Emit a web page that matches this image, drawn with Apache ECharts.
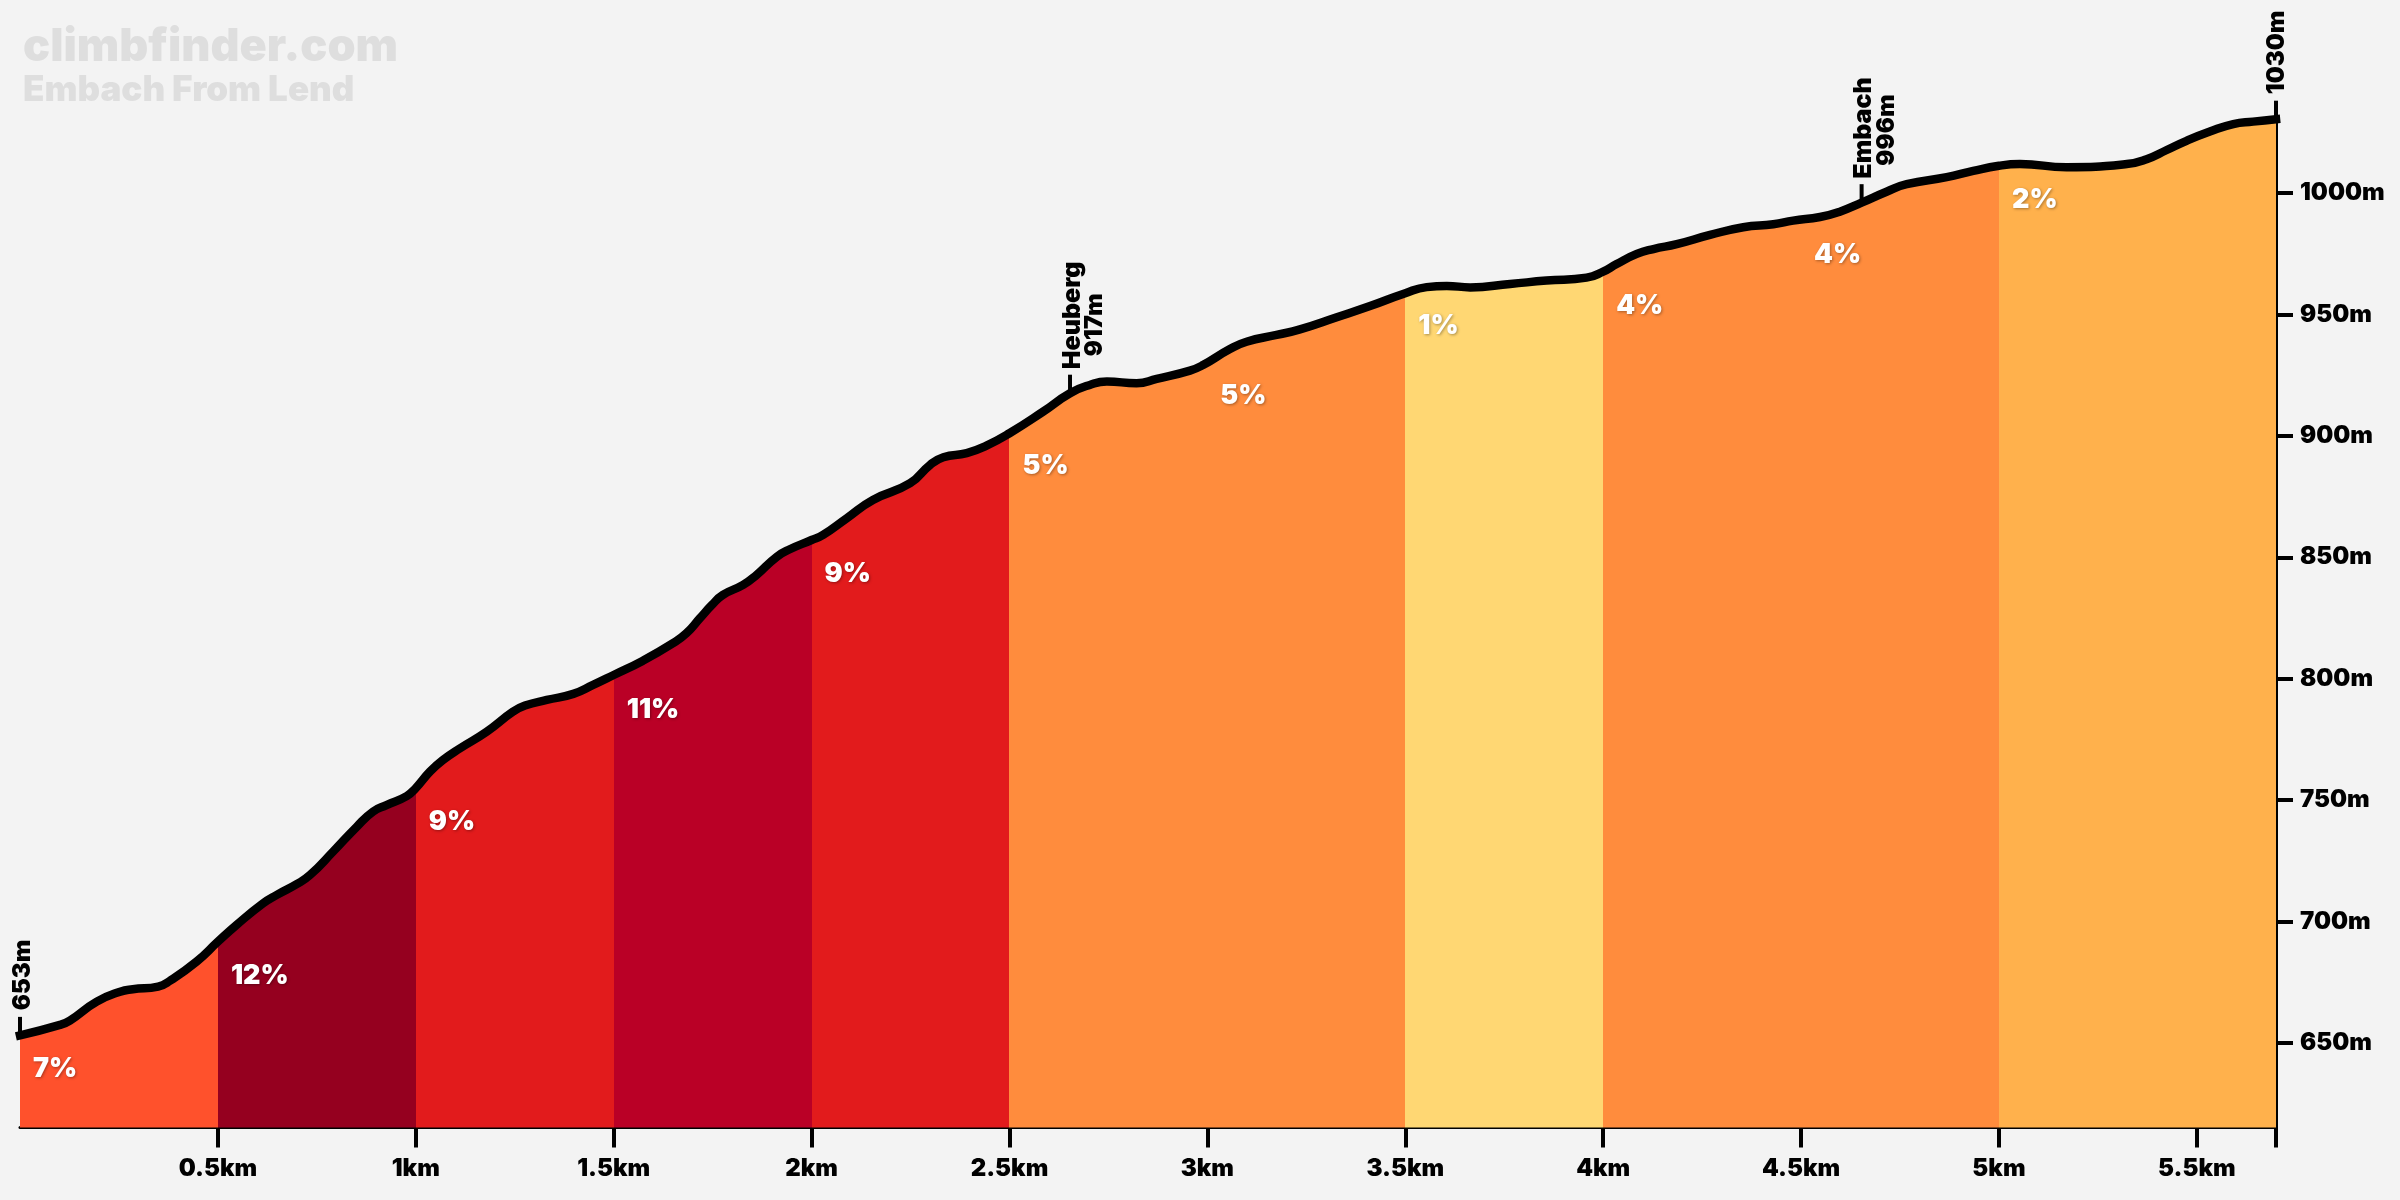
<!DOCTYPE html>
<html>
<head>
<meta charset="utf-8">
<title>Embach From Lend</title>
<script src="https://cdn.jsdelivr.net/npm/echarts@6/dist/echarts.min.js"></script>
<style>
html, body { margin: 0; background: #f3f3f3; }
#chart { width: 2400px; height: 1200px; }
</style>
</head>
<body>
<div id="chart"></div>
<script>
// profile
var profileKm = [0, .101, .126, .194, .253, .285, .349, .379, .446, .5, .547, .614, .649, .699, .733, .791, .851, .892, .926, .977,
    1, 1.036, 1.069, 1.112, 1.179, 1.246, 1.276, 1.331, 1.398, 1.448, 1.5, 1.574, 1.65, 1.684, 1.718, 1.748, 1.776, 1.827, 1.861, 1.912, 1.945,
    2, 2.029, 2.089, 2.155, 2.249, 2.299, 2.333, 2.392, 2.442, 2.5, 2.585, 2.653, 2.703, 2.746, 2.821, 2.872, 2.956, 2.989,
    3.057, 3.099, 3.175, 3.234, 3.327, 3.411, 3.5, 3.554, 3.605, 3.664, 3.765, 3.857, 3.958,
    4, 4.034, 4.085, 4.127, 4.186, 4.27, 4.354, 4.43, 4.48, 4.548, 4.598, 4.653, 4.716, 4.767, 4.868, 4.935,
    5, 5.053, 5.171, 5.323, 5.373, 5.424, 5.474, 5.533, 5.592, 5.642, 5.7];
var profileElev = [653, 657.3, 659.1, 666.9, 671, 672, 673.1, 675.5, 683.4, 691.6, 698.5, 707.4, 710.9, 715.3, 719.1, 728.7, 739, 745.2, 747.9, 751.6,
    754.9, 761.7, 766.5, 771.3, 778.1, 786.4, 788.9, 791.2, 793.7, 797.4, 801.5, 807.4, 814.6, 818.7, 824.9, 830.3, 834.5, 838.6, 842.7, 850.2, 853.3,
    857.1, 859.2, 866.1, 873.6, 880.5, 888, 891.2, 892.9, 896, 901.1, 910, 917.6, 921, 922.4, 921.7, 923.5, 926.9, 929.2,
    935.8, 938.8, 941.6, 943.9, 948.9, 953.5, 958.8, 961.3, 961.8, 961.2, 962.6, 964, 965.2,
    967.7, 970.8, 975, 977, 979, 982.8, 986, 987.2, 988.7, 990.2, 992.4, 996.1, 1000.6, 1003.7, 1006.6, 1009.2,
    1011.3, 1012, 1010.7, 1012, 1014, 1017.8, 1021.6, 1025.4, 1028.5, 1029.5, 1030.5];

// gradient sections
var sectionStart = [0, .5, 1, 1.5, 2, 2.5, 3.5, 4, 5];
var sectionEnd = [.5, 1, 1.5, 2, 2.5, 3.5, 4, 5, 5.7];
var sectionColor = ['#ff512c', '#95001f', '#e21b1c', '#ba0026', '#e21b1c', '#ff8c3d', '#ffd773', '#ff8c3d', '#ffb14c'];

// percent labels
var gradeKm = [0, .5, 1, 1.5, 2, 2.5, 3, 3.5, 4, 4.5, 5];
var gradeElev = [640, 678.3, 741.8, 787.9, 843.9, 888.4, 917.3, 946.1, 954.4, 975.6, 998];
var gradeText = ['7%', '12%', '9%', '11%', '9%', '5%', '5%', '1%', '4%', '4%', '2%'];

// waypoints
var waypointKm = [0, 2.653, 4.653, 5.7];
var waypointElev = [653, 917.6, 996.1, 1030.5];
var waypointName = ['', 'Heuberg', 'Embach', ''];
var waypointHeight = ['653m', '917m', '996m', '1030m'];

var xTicks = [.5, 1, 1.5, 2, 2.5, 3, 3.5, 4, 4.5, 5, 5.5, 5.7];
var xLabels = [.5, 1, 1.5, 2, 2.5, 3, 3.5, 4, 4.5, 5, 5.5];
var yTicks = [650, 700, 750, 800, 850, 900, 950, 1000];

var fontName = 'Inter';

var profile = profileKm.map(function(km, i){
    return [km, profileElev[i]];
});

var pieces = sectionStart.map(function(s, i){
    return { gte: s, lt: sectionEnd[i] + (i == sectionStart.length - 1 ? 1 : 0), color: sectionColor[i] };
});

var option = {
    backgroundColor: '#f3f3f3',
    animation: false,
    title: {
        left: 18,
        top: 20,
        itemGap: 3,
        text: 'climbfinder.com',
        subtext: 'Embach From Lend',
        textStyle: { color: '#dedede', fontFamily: fontName, fontWeight: 900, fontSize: 45 },
        subtextStyle: { color: '#dedede', fontFamily: fontName, fontWeight: 900, fontSize: 35 }
    },
    grid: { left: 20, top: 120.4, width: 2256, height: 1007.2 },
    xAxis: {
        type: 'value',
        min: 0,
        max: 5.7,
        splitLine: { show: false },
        axisLine: { show: true, onZero: false, lineStyle: { color: '#000', width: 3 } },
        axisTick: { show: true, customValues: xTicks, length: 20, lineStyle: { color: '#000', width: 4 } },
        axisLabel: {
            customValues: xLabels,
            margin: 29,
            color: '#000',
            fontFamily: fontName,
            fontWeight: 900,
            fontSize: 24,
            formatter: function(v){ return v + 'km'; }
        }
    },
    yAxis: {
        type: 'value',
        position: 'right',
        min: 615,
        max: 1030,
        splitLine: { show: false },
        axisLine: { show: true, onZero: false, lineStyle: { color: '#000', width: 3 } },
        axisTick: { show: true, customValues: yTicks, length: 17, lineStyle: { color: '#000', width: 4 } },
        axisLabel: {
            customValues: yTicks,
            margin: 24,
            color: '#000',
            fontFamily: fontName,
            fontWeight: 900,
            fontSize: 24,
            formatter: function(v){ return v + 'm'; }
        }
    },
    visualMap: {
        show: false,
        type: 'piecewise',
        seriesIndex: 0,
        dimension: 0,
        pieces: pieces
    },
    series: [
        {
            name: 'fill',
            type: 'line',
            data: profile,
            smooth: .5,
            symbol: 'none',
            clip: false,
            lineStyle: { width: 0 },
            areaStyle: { opacity: 1 },
            z: 2
        },
        {
            name: 'profile',
            type: 'line',
            data: profile,
            smooth: .5,
            symbol: 'none',
            clip: false,
            lineStyle: { color: '#000', width: 8.5, cap: 'square', join: 'round' },
            z: 3
        },
        {
            name: 'grade',
            type: 'scatter',
            symbolSize: 0,
            clip: false,
            z: 4,
            itemStyle: { opacity: 1 },
            data: gradeKm.map(function(km, i){ return { value: [km, gradeElev[i]], name: gradeText[i] }; }),
            label: {
                show: true,
                position: 'right',
                distance: 13,
                offset: [0, 2],
                color: '#fff',
                fontFamily: fontName,
                fontWeight: 900,
                fontSize: 27,
                textShadowColor: 'rgba(0,0,0,.35)',
                textShadowBlur: 3,
                textShadowOffsetX: 1,
                textShadowOffsetY: 1,
                formatter: '{b}'
            }
        },
        {
            name: 'waypoint',
            type: 'scatter',
            symbol: 'rect',
            symbolSize: [4, 19],
            symbolOffset: [0, -9],
            itemStyle: { color: '#000', opacity: 1 },
            clip: false,
            z: 2.5,
            data: waypointKm.map(function(km, i){ return { value: [km, waypointElev[i]], name: waypointName[i] }; }),
            label: {
                show: true,
                position: 'inside',
                rotate: 90,
                align: 'left',
                verticalAlign: 'middle',
                offset: [15, 2],
                color: '#000',
                fontFamily: fontName,
                fontWeight: 900,
                fontSize: 25,
                formatter: '{b}'
            }
        },
        {
            name: 'waypointHeight',
            type: 'scatter',
            symbolSize: 0,
            clip: false,
            z: 4,
            itemStyle: { opacity: 1 },
            data: waypointKm.map(function(km, i){
                var named = waypointName[i] != '';
                return {
                    value: [km, waypointElev[i]],
                    name: waypointHeight[i],
                    label: { offset: named ? [37, 25] : [25, i == 0 ? 3 : 1] }
                };
            }),
            label: {
                show: true,
                position: 'inside',
                rotate: 90,
                align: 'left',
                verticalAlign: 'middle',
                color: '#000',
                fontFamily: fontName,
                fontWeight: 900,
                fontSize: 24,
                formatter: '{b}'
            }
        }
    ]
};

var chart = echarts.init(document.getElementById('chart'));
chart.setOption(option);
</script>
</body>
</html>
